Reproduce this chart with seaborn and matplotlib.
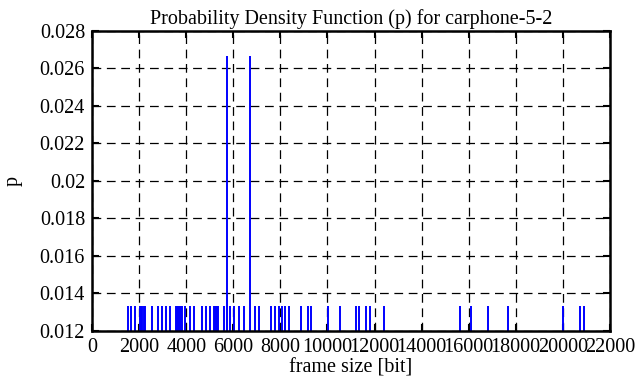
import numpy as np
import pandas as pd
import seaborn as sns
import matplotlib.pyplot as plt

frame_size = [1516, 1656, 1826, 2039, 2090, 2136, 2190, 2251, 2535, 2790,
              2960, 3130, 3300, 3555, 3600, 3640, 3690, 3737, 3790, 3835,
              3950, 4162, 4350, 4659, 4842, 5024, 5181, 5220, 5266, 5310,
              5364, 5593, 5746, 5861, 6044, 6243, 6443, 6723, 6935, 7100,
              7615, 7758, 7939, 8067, 8208, 8350, 8888, 9172, 9312, 10023,
              10532, 11212, 11353, 11650, 11820, 12414, 15641, 16096, 16831,
              17667, 20003, 20725, 20882]
p_one = 1 / 75
tall = [5746, 6723]
p = [2 * p_one if s in tall else p_one for s in frame_size]

df = pd.DataFrame({'frame_size': frame_size, 'p': p})

sns.set_theme(style="ticks", rc={'text.color': 'black', 'axes.labelcolor': 'black'})
plt.rcParams['font.family'] = ['Liberation Serif', 'DejaVu Serif']

fig, ax = plt.subplots(figsize=(6.36, 3.87), dpi=100)
fig.subplots_adjust(left=0.1447, right=0.959, top=0.920, bottom=0.1452)

# impulses, gnuplot style
ax.vlines(df.frame_size, 0, df.p, color='#0000ff', lw=1.4)

ax.set_xlim(0, 22000)
ax.set_ylim(0.012, 0.028)
ax.set_xticks(np.arange(0, 22001, 2000))
ax.set_yticks(np.arange(0.012, 0.02801, 0.002))
ax.set_yticklabels(['0.012', '0.014', '0.016', '0.018', '0.02', '0.022',
                    '0.024', '0.026', '0.028'])

ax.grid(True, color='black', lw=0.9, linestyle=(0, (7, 4.5)))
ax.set_axisbelow(True)
for sp in ax.spines.values():
    sp.set_linewidth(1.8)
    sp.set_color('black')
ax.tick_params(direction='in', length=5, width=1.5, top=True, right=True,
               labelsize=14.5, colors='black', pad=5)

ax.set_title('Probability Density Function (p) for carphone-5-2', fontsize=14.5,
             pad=5, color='black')
ax.set_xlabel('frame size [bit]', fontsize=14.5, labelpad=1)
ax.set_ylabel('p', fontsize=14.5, labelpad=12)

fig.savefig('out.png', dpi=100)
